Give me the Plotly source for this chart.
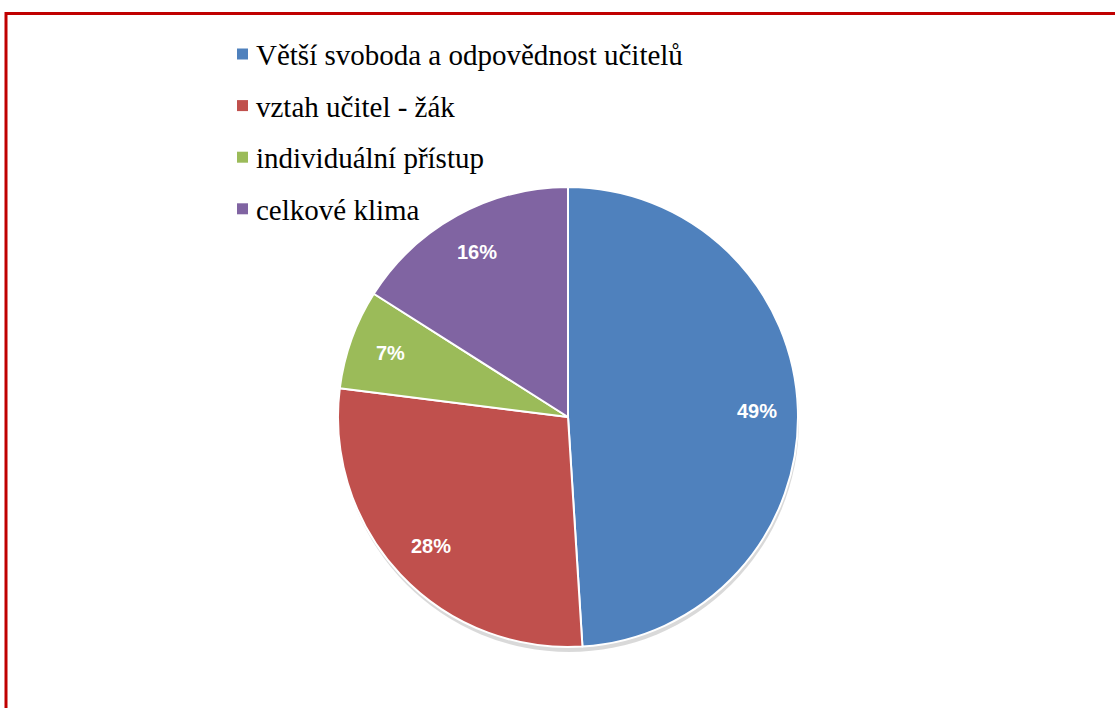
import math
import plotly.graph_objects as go

labels = ["Větší svoboda a odpovědnost učitelů", "vztah učitel - žák", "individuální přístup", "celkové klima"]
values = [49, 28, 7, 16]
colors = ["#4F81BD", "#C0504D", "#9BBB59", "#8064A2"]

W, H = 1115, 708
cx, cy, R = 568, 417, 230

def px(x):
    return x / W

def py(y):
    return 1 - y / H

fig = go.Figure()
fig.add_trace(go.Pie(
    labels=labels, values=values, sort=False, direction="clockwise", rotation=0,
    marker=dict(colors=colors, line=dict(color="white", width=2)),
    textinfo="none",
    domain=dict(x=[px(cx - R), px(cx + R)], y=[py(cy + R), py(cy - R)]),
    showlegend=False, hoverinfo="label+percent",
))

shapes = [
    dict(type="circle", xref="paper", yref="paper", layer="below",
         x0=px(cx - R + 1), x1=px(cx + R + 1), y0=py(cy + R + 5), y1=py(cy - R + 3),
         fillcolor="rgba(0,0,0,0.15)", line=dict(width=0)),
    dict(type="rect", xref="paper", yref="paper",
         x0=px(6), x1=px(W + 20), y0=py(H + 20), y1=py(13.5),
         line=dict(color="#C00000", width=3)),
]
annotations = []

total = sum(values)
cum = 0
for v in values:
    mid = (cum + v / 2) / total * 2 * math.pi
    cum += v
    lx = cx + 0.82 * R * math.sin(mid)
    ly = cy - 0.82 * R * math.cos(mid)
    annotations.append(dict(text=f"{round(v / total * 100)}%", x=px(lx), y=py(ly),
                            xref="paper", yref="paper", showarrow=False,
                            xanchor="center", yanchor="middle",
                            font=dict(family="Liberation Sans", size=20, color="white", weight="bold")))

row0, gap = 54, 51.6
for i, (lab, col) in enumerate(zip(labels, colors)):
    yc = row0 + i * gap
    shapes.append(dict(type="rect", xref="paper", yref="paper",
                       x0=px(237), x1=px(248), y0=py(yc + 5.5), y1=py(yc - 5.5),
                       fillcolor=col, line=dict(width=0)))
    annotations.append(dict(text=lab, x=px(254), y=py(yc + 1), xref="paper", yref="paper",
                            xanchor="left", yanchor="middle", showarrow=False,
                            font=dict(family="Liberation Serif", size=29, color="black")))

fig.update_layout(
    width=W, height=H, margin=dict(l=0, r=0, t=0, b=0),
    paper_bgcolor="white", plot_bgcolor="white",
    shapes=shapes, annotations=annotations,
)
fig.write_html("out.html")
